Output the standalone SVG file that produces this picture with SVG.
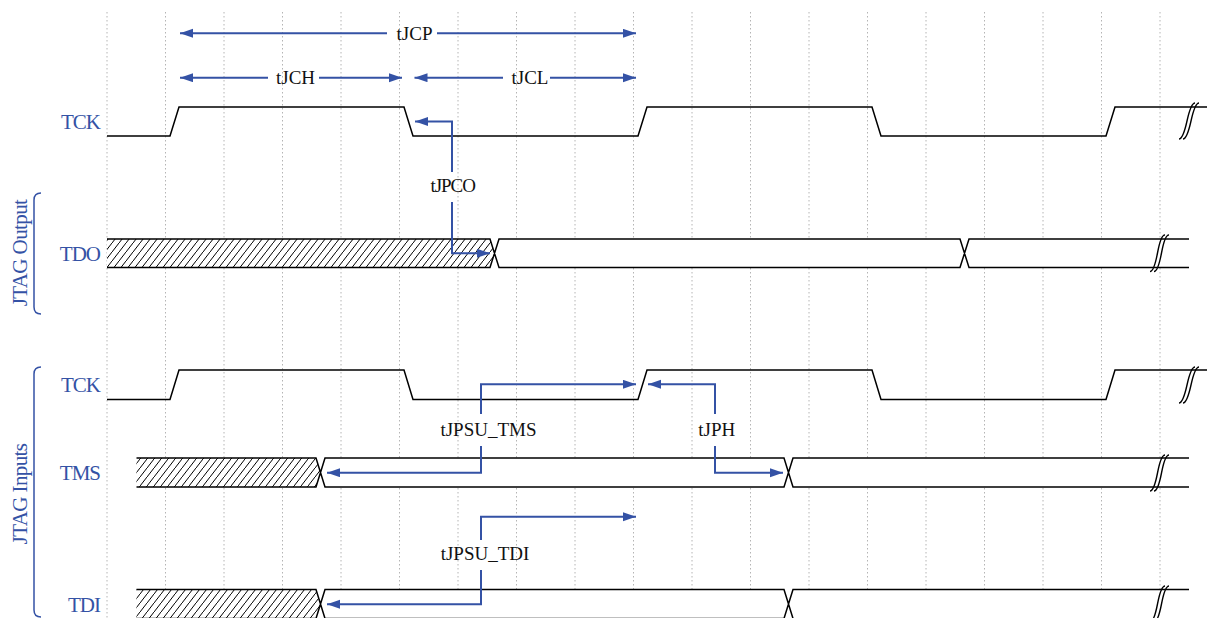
<svg xmlns="http://www.w3.org/2000/svg" width="1207" height="618" viewBox="0 0 1207 618">
<style>
.grid{stroke:#b4b4b4;stroke-width:1;stroke-dasharray:1.5 2.5;fill:none}
.sig{stroke:#000;stroke-width:1.5;fill:none;stroke-linejoin:miter}
.band{fill:#fff;stroke:none}
.hatch{fill:url(#hatch);stroke:none}
.brk{stroke:#000;stroke-width:1.4;fill:none}
.arr{stroke:#3452a5;stroke-width:2;fill:none}
.lbl{font-family:'Liberation Serif','Times New Roman',serif;font-size:21px;fill:#3452a5;letter-spacing:-1px}
.grp{font-family:'Liberation Serif','Times New Roman',serif;font-size:21px;fill:#3452a5;letter-spacing:-0.6px;text-anchor:middle}
.tl{font-family:'Liberation Serif','Times New Roman',serif;font-size:19px;fill:#111;text-anchor:middle}
.brace{stroke:#3452a5;stroke-width:1.5;fill:none}
</style>
<defs>
<pattern id="hatch" patternUnits="userSpaceOnUse" width="7" height="9">
<rect width="7" height="9" fill="#fff"/>
<path d="M-0.7,9.9 L7.7,-0.9" stroke="#000" stroke-width="1"/>
</pattern>
<marker id="ah" markerUnits="userSpaceOnUse" markerWidth="14" markerHeight="10" refX="13" refY="4.5" orient="auto-start-reverse">
<path d="M0,0 L13,4.5 L0,9 Z" fill="#3452a5"/>
</marker>
</defs>
<g id="grid">
<path class="grid" d="M107,12V618M165.5,12V618M224,12V618M282.5,12V618M341,12V618M399.5,12V618M458,12V618M516.5,12V618M575,12V618M633.5,12V618M692,12V618M750.5,12V618M809,12V618M867.5,12V618M926,12V618M984.5,12V618M1043,12V618M1101.5,12V618M1160,12V618"/>
</g>
<g id="brackets">
<path class="brace" d="M41,193 Q34,193 34,200 L34,307 Q34,314 41,314"/>
<text class="grp" transform="translate(27,253) rotate(-90)">JTAG Output</text>
<path class="brace" d="M41,367 Q34,367 34,374 L34,610 Q34,617 41,617"/>
<text class="grp" transform="translate(27,494) rotate(-90)">JTAG Inputs</text>
</g>
<g id="tck-top">
<text class="lbl" x="100" y="129" text-anchor="end">TCK</text>
<path class="sig" d="M107,136 L170,136 L179,107 L404,107 L413,136 L638,136 L647,107 L872,107 L881,136 L1106,136 L1115,107 L1207,107"/>
<path class="brk" d="M1179,139 Q1183,139 1187,121 T1195,103 M1183,139 Q1187,139 1191,121 T1199,103"/>
</g>
<g id="tdo">
<text class="lbl" x="100" y="261" text-anchor="end">TDO</text>
<path class="hatch" d="M107,239 L490,239 L494.5,253.2 L490,267.5 L107,267.5 Z"/>
<path class="band" d="M494.5,253.2 L499,239 L960,239 L964.5,253.2 L960,267.5 L499,267.5 Z M964.5,253.2 L969,239 L1189,239 L1189,267.5 L969,267.5 Z"/>
<path class="sig" d="M107,239 L490,239 L499,267.5 L960,267.5 L969,239 L1189,239 M107,267.5 L490,267.5 L499,239 L960,239 L969,267.5 L1189,267.5"/>
<path class="brk" d="M1150,271.5 Q1154,271.5 1157.5,253 T1165,235 M1154,271.5 Q1158,271.5 1161.5,253 T1169,235"/>
</g>
<g id="tck-bottom">
<text class="lbl" x="100" y="392" text-anchor="end">TCK</text>
<path class="sig" d="M107,399.5 L170,399.5 L179,370 L404,370 L413,399.5 L638,399.5 L647,370 L872,370 L881,399.5 L1106,399.5 L1115,370 L1207,370"/>
<path class="brk" d="M1179,403 Q1183,403 1187,385 T1195,367 M1183,403 Q1187,403 1191,385 T1199,367"/>
</g>
<g id="tms">
<text class="lbl" x="100" y="480" text-anchor="end">TMS</text>
<path class="hatch" d="M136.5,458 L316,458 L320.5,472.5 L316,487 L136.5,487 Z"/>
<path class="band" d="M320.5,472.5 L325,458 L784,458 L788.5,472.5 L784,487 L325,487 Z M788.5,472.5 L793,458 L1189,458 L1189,487 L793,487 Z"/>
<path class="sig" d="M136.5,458 L316,458 L325,487 L784,487 L793,458 L1189,458 M136.5,487 L316,487 L325,458 L784,458 L793,487 L1189,487"/>
<path class="brk" d="M1150,491 Q1154,491 1157.5,473 T1165,455 M1154,491 Q1158,491 1161.5,473 T1169,455"/>
</g>
<g id="tdi">
<text class="lbl" x="100" y="611.5" text-anchor="end">TDI</text>
<path class="hatch" d="M136.5,589.5 L316,589.5 L320.5,604 L316,618.5 L136.5,618.5 Z"/>
<path class="band" d="M320.5,604 L325,589.5 L784,589.5 L788.5,604 L784,618.5 L325,618.5 Z M788.5,604 L793,589.5 L1189,589.5 L1189,618.5 L793,618.5 Z"/>
<path class="sig" d="M136.5,589.5 L316,589.5 L325,618.5 L784,618.5 L793,589.5 L1189,589.5 M136.5,618.5 L316,618.5 L325,589.5 L784,589.5 L793,618.5"/>
<path class="brk" d="M1150,622 Q1154,622 1157.5,604 T1165,586 M1154,622 Q1158,622 1161.5,604 T1169,586"/>
</g>
<g id="connectors">
<path class="arr" marker-start="url(#ah)" d="M180,33.3 L387,33.3"/>
<path class="arr" marker-end="url(#ah)" d="M437,33.3 L636,33.3"/>
<path class="arr" marker-start="url(#ah)" d="M180,77.7 L268,77.7"/>
<path class="arr" marker-end="url(#ah)" d="M319,77.7 L402,77.7"/>
<path class="arr" marker-start="url(#ah)" d="M414.5,77.7 L503,77.7"/>
<path class="arr" marker-end="url(#ah)" d="M550,77.7 L636,77.7"/>
<path class="arr" marker-start="url(#ah)" d="M415,121.5 L452,121.5 L452,172"/>
<path class="arr" marker-end="url(#ah)" d="M452,202 L452,253.3 L490,253.3"/>
<path class="arr" marker-end="url(#ah)" d="M481,414 L481,384.3 L636,384.3"/>
<path class="arr" marker-end="url(#ah)" d="M481,446 L481,472.7 L327,472.7"/>
<path class="arr" marker-end="url(#ah)" d="M715,414 L715,384.3 L648,384.3"/>
<path class="arr" marker-end="url(#ah)" d="M715,446 L715,472.7 L783,472.7"/>
<path class="arr" marker-end="url(#ah)" d="M481,540 L481,516.7 L636,516.7"/>
<path class="arr" marker-end="url(#ah)" d="M481,570 L481,604.3 L327,604.3"/>
</g>
<g id="labels">
<text class="tl" x="414.5" y="39.5">tJCP</text>
<text class="tl" x="295.5" y="84">tJCH</text>
<text class="tl" x="530" y="84">tJCL</text>
<text class="tl" x="452.7" y="192" letter-spacing="-1">tJPCO</text>
<text class="tl" x="488.5" y="436">tJPSU_TMS</text>
<text class="tl" x="716.7" y="436">tJPH</text>
<text class="tl" x="485" y="560">tJPSU_TDI</text>
</g>
</svg>
